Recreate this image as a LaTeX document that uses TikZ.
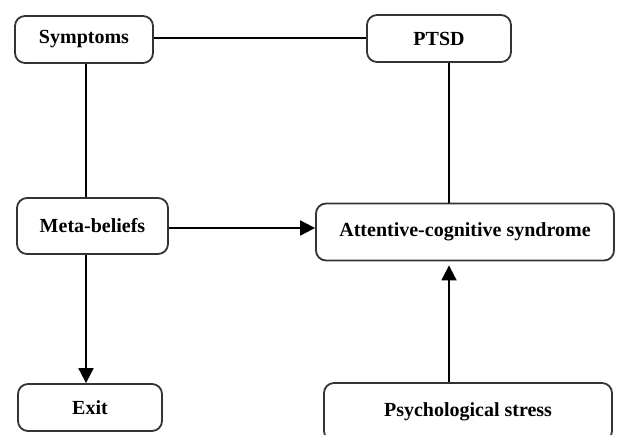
\documentclass[tikz,border=0pt]{standalone}
\usepackage{fontspec}
\setmainfont{Liberation Serif}
\usetikzlibrary{calc,positioning,arrows.meta}

\begin{document}
\begin{tikzpicture}[%
	x=0.5pt, y=-0.5pt,
	every node/.style = {shape=rectangle, rounded corners=5pt, draw=black!80, line width=0.9pt,
	  align=center, inner sep=0pt, font=\bfseries\fontsize{10}{12}\selectfont},
	box/.style={minimum width=#1*0.5pt},
	line/.style={draw=black, line width=0.9pt},
	arr/.style={line, -{Triangle[length=7.5pt,width=7.5pt]}}
	]
  \useasboundingbox (0,0) rectangle (619,434);
  \clip (0,0) rectangle (619,434);
  \node [box=138, minimum height=23.5pt] (sym) at (84,39.5) {Symptoms};
  \node [box=144, minimum height=23.5pt] (ptsd) at (439,38.5) {PTSD};
  \node [box=151, minimum height=28pt] (meta) at (92.5,226) {Meta-beliefs};
  \node [box=298, minimum height=28.5pt] (acs) at (465,232) {Attentive-cognitive syndrome};
  \node [box=144, minimum height=23.5pt] (exit) at (90,407.5) {Exit};
  \node [box=288, minimum height=29pt] (stress) at (468,412) {Psychological stress};
  % columns and rows of the connectors
  \coordinate (xl) at (86,0);
  \coordinate (xr) at (449,0);
  \coordinate (yt) at (0,38);
  \coordinate (ym) at (0,228);
  \draw [line] (sym.east |- yt) -- (ptsd.west |- yt);
  \draw [line] (sym.south -| xl) -- (meta.north -| xl);
  \draw [arr] (meta.south -| xl) -- (exit.north -| xl);
  \draw [arr] (meta.east |- ym) -- (acs.west |- ym);
  \draw [line] (ptsd.south -| xr) -- (acs.north -| xr);
  \draw [arr] (stress.north -| xr) -- ([yshift=-2pt]acs.south -| xr);
\end{tikzpicture}
\end{document}
